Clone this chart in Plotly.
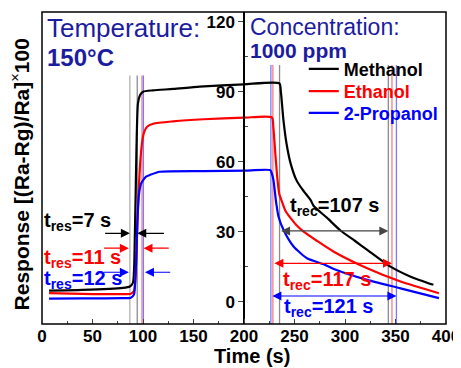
import plotly.graph_objects as go

# ---------------- data ----------------
t_meth = [7, 40, 80, 87, 90, 92, 93.5, 95, 97, 100, 110, 130, 156, 200, 235, 236.5, 239, 242, 246, 252, 258, 266, 269, 282, 295.5, 310, 322, 345, 365, 387.5]
v_meth = [4.7, 5.0, 5.9, 6.5, 8, 30, 65, 85, 88.5, 90, 90.6, 91.2, 92.2, 93.2, 93.6, 90, 78, 68, 59.5, 52, 48, 43.5, 41, 36, 30.5, 26, 22.2, 15, 10.7, 7.2]

t_eth = [7, 40, 80, 88, 91, 93, 95, 97, 99, 101, 104, 110, 130, 160, 200, 227.6, 229, 231, 233.2, 235, 237.6, 241, 245.8, 252.5, 259, 272.4, 288.9, 322, 355, 393]
v_eth = [3.6, 3.3, 3.2, 3.4, 4.5, 15, 40, 58, 68, 72.5, 75, 76.3, 77.3, 78.2, 78.9, 79, 75, 63.6, 52, 46, 42.9, 39, 36, 32.5, 30, 26, 21.4, 14.3, 8.6, 3.6]

t_prop = [7, 40, 80, 88, 91, 93, 94.5, 96, 98, 100, 103, 106.7, 116.6, 160, 202.8, 226, 227.5, 229.2, 231.9, 234.2, 239.2, 249.1, 262.4, 278.9, 288.9, 322, 355, 393]
v_prop = [1.3, 1.4, 1.5, 1.7, 3, 15, 35, 46, 50.5, 52, 53.6, 54.3, 55.7, 56.0, 56.2, 56.4, 55, 52, 42.2, 36.4, 30.7, 23.6, 18.6, 16, 14, 9.3, 5.7, 1.5]

series_names = ["Methanol", "Ethanol", "2-Propanol"]
series_colors = ["#000000", "#ff0000", "#0000ff"]

x_ticks = [0, 50, 100, 150, 200, 250, 300, 350, 400]
y_ticks = [0, 30, 60, 90, 120]

# response / recovery marker times
res_start = [87, 86, 86]
res_end = [94.3, 99, 100.4]
res_levels = [29.3, 22.9, 12.6]
res_labels = ["t<sub>res</sub>=7 s", "t<sub>res</sub>=11 s", "t<sub>res</sub>=12 s"]
rec_start = [235.2, 228.6, 226.6]
rec_end = [342.9, 346.5, 350.9]
rec_levels = [30.3, 16.4, 2.4]
rec_labels = ["t<sub>rec</sub>=107 s", "t<sub>rec</sub>=117 s", "t<sub>rec</sub>=121 s"]

FONT = "Liberation Sans, Arial, sans-serif"
DARKBLUE = "#1c1ca0"

fig = go.Figure()

# vertical guide lines (drawn first, behind the curves)
guide_colors = ["#8c8c8c", "#ff7a7a", "#7a7aff"]
vlines = [(87, 97, "#b0b0b0")]
for i in range(3):
    vlines.append((res_end[i], 97, guide_colors[i]))
    vlines.append((rec_start[i], 101.5, guide_colors[i]))
    vlines.append((rec_end[i], 101.5, guide_colors[i]))
for xv, top, col in vlines:
    fig.add_trace(go.Scatter(x=[xv, xv], y=[-9.6, top], mode="lines",
                             line=dict(color=col, width=1.3), showlegend=False, hoverinfo="skip"))

legend_ids = ["legend", "legend2", "legend3"]
for t, v, name, col, lg in zip([t_meth, t_eth, t_prop], [v_meth, v_eth, v_prop], series_names, series_colors, legend_ids):
    fig.add_trace(go.Scatter(x=t, y=v, mode="lines", line=dict(color=col, width=2.2, shape="spline", smoothing=0.6),
                             name=f"<span style='color:{col}'>{name}</span>", legend=lg))

annotations = []
arrow_cols = ["#000000", "#ff0000", "#0000ff"]
for i in range(3):
    c = arrow_cols[i]
    # response arrows
    annotations.append(dict(x=res_start[i], y=res_levels[i], ax=res_start[i] - 26, ay=res_levels[i],
                            xref="x", yref="y", axref="x", ayref="y", text="", showarrow=True,
                            arrowhead=2, arrowsize=1.5, arrowwidth=1.2, arrowcolor=c, standoff=0))
    annotations.append(dict(x=res_end[i] + (1.5 if i else 0), y=res_levels[i], ax=res_end[i] + 28, ay=res_levels[i],
                            xref="x", yref="y", axref="x", ayref="y", text="", showarrow=True,
                            arrowhead=2, arrowsize=1.5, arrowwidth=1.2, arrowcolor=c, standoff=0))
    # recovery double arrows
    annotations.append(dict(x=rec_end[i], y=rec_levels[i], ax=rec_start[i], ay=rec_levels[i],
                            xref="x", yref="y", axref="x", ayref="y", text="", showarrow=True,
                            arrowhead=2, startarrowhead=2, arrowside="end+start", arrowsize=1.5, startarrowsize=1.5,
                            arrowwidth=1.2, arrowcolor=("#444444" if i == 0 else c), standoff=0, startstandoff=0))

res_text_y = [34.3, 18.7, 9.3]
rec_text = [(243.8, 41), (237, 9), (238, -2.7)]
for i in range(3):
    annotations.append(dict(x=0.3, y=res_text_y[i], xref="x", yref="y", xanchor="left", yanchor="middle",
                            text=f"<b>{res_labels[i]}</b>", showarrow=False,
                            font=dict(family=FONT, size=20, color=series_colors[i])))
    annotations.append(dict(x=rec_text[i][0], y=rec_text[i][1], xref="x", yref="y", xanchor="left", yanchor="middle",
                            text=f"<b>{rec_labels[i]}</b>", showarrow=False,
                            font=dict(family=FONT, size=20, color=series_colors[i])))

# header texts
annotations += [
    dict(x=3.0, y=117.3, xref="x", yref="y", xanchor="left", yanchor="middle", text="Temperature:",
         showarrow=False, font=dict(family=FONT, size=26, color=DARKBLUE)),
    dict(x=3.0, y=104.5, xref="x", yref="y", xanchor="left", yanchor="middle", text="<b>150°C</b>",
         showarrow=False, font=dict(family=FONT, size=24, color=DARKBLUE)),
    dict(x=204, y=117.7, xref="x", yref="y", xanchor="left", yanchor="middle", text="Concentration:",
         showarrow=False, font=dict(family=FONT, size=23, color=DARKBLUE)),
    dict(x=204, y=107.5, xref="x", yref="y", xanchor="left", yanchor="middle", text="<b>1000 ppm</b>",
         showarrow=False, font=dict(family=FONT, size=21, color=DARKBLUE)),
    # axis titles
    dict(x=0.52, y=-0.104, xref="paper", yref="paper", xanchor="center", yanchor="middle", text="<b>Time (s)</b>",
         showarrow=False, font=dict(family=FONT, size=20, color="black")),
    dict(x=-0.054, y=0.48, xref="paper", yref="paper", xanchor="center", yanchor="middle", textangle=-90,
         text="<b>Response [(Ra-Rg)/Ra]</b><sup>×</sup><b>100</b>",
         showarrow=False, font=dict(family=FONT, size=21, color="black")),
]

legend_style = dict(x=0.648, xanchor="left", yanchor="top", bgcolor="rgba(0,0,0,0)",
                    font=dict(family=FONT, size=18, weight="bold"), itemwidth=30)

# the page body adds an 8px offset, so the figure is sized to the remaining window
fig.update_layout(
    width=453, height=360,
    margin=dict(l=34, r=15, t=4, b=44, autoexpand=False),
    paper_bgcolor="white", plot_bgcolor="white",
    font=dict(family=FONT, color="black"),
    showlegend=True,
    legend=dict(y=0.876, **legend_style),
    legend2=dict(y=0.805, **legend_style),
    legend3=dict(y=0.735, **legend_style),
    xaxis=dict(range=[0, 400], domain=[0, 1], tickvals=x_ticks, ticks="inside", ticklen=5, tickwidth=1.3,
               showgrid=False, zeroline=False, showline=False, automargin=False,
               minor=dict(tickvals=[25, 75, 125, 175, 225, 275, 325, 375], ticks="inside", ticklen=3, tickwidth=1),
               tickfont=dict(family=FONT, size=17, weight="bold", color="black")),
    yaxis=dict(range=[-9.6, 124.2], anchor="free", position=0.5, tickvals=y_ticks, ticks="outside", ticklen=5,
               tickwidth=1.3, showgrid=False, zeroline=False, showline=True, linecolor="black", linewidth=1.5,
               automargin=False,
               minor=dict(tickvals=[15, 45, 75, 105], ticks="inside", ticklen=3, tickwidth=1),
               tickfont=dict(family=FONT, size=17, weight="bold", color="black")),
    shapes=[dict(type="rect", xref="x domain", yref="y domain", x0=0, x1=1, y0=0, y1=1,
                 line=dict(color="black", width=1.5), layer="above")],
    annotations=annotations,
)

fig.write_html("out.html")
